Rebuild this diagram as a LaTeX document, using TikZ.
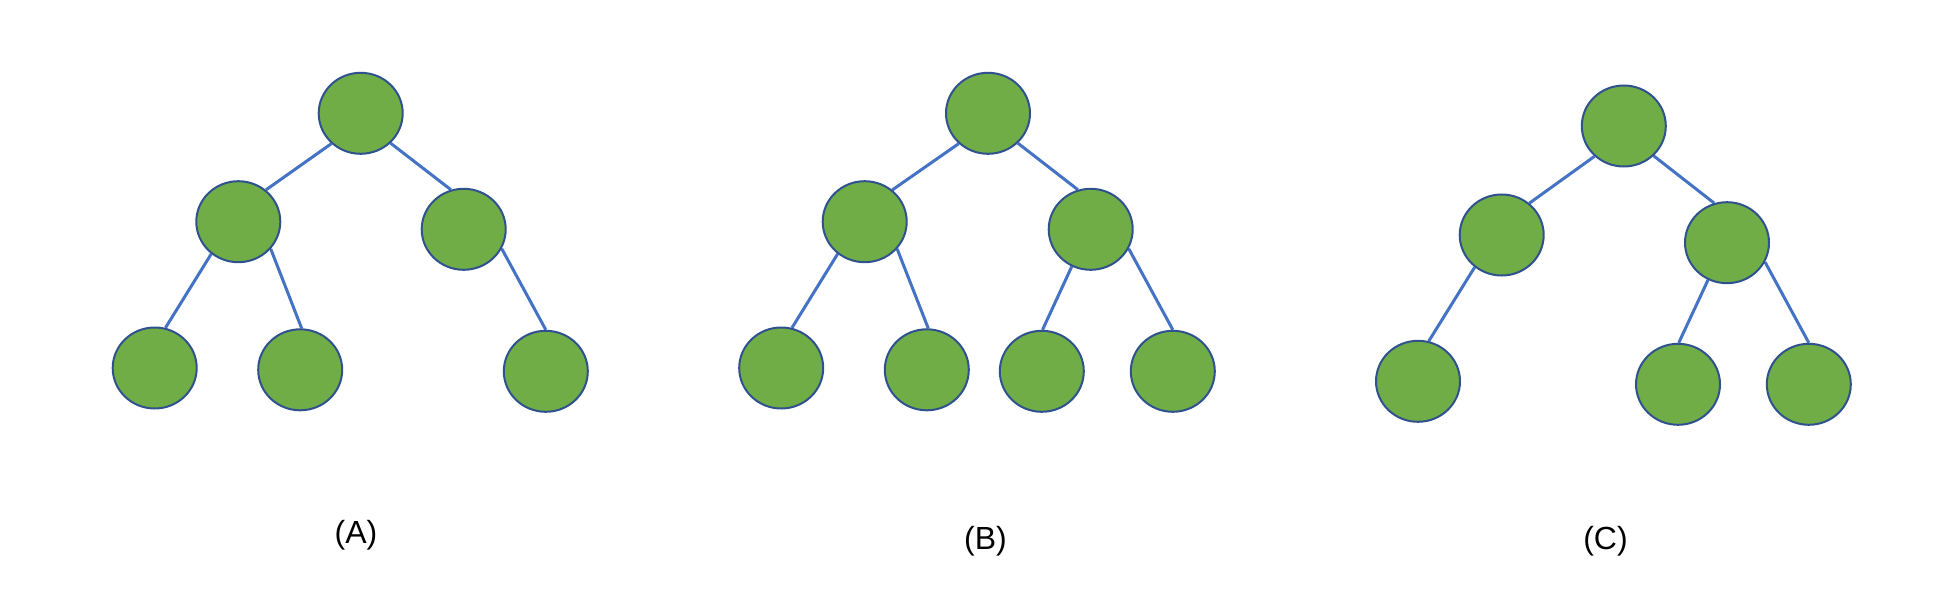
\documentclass[tikz,border=0pt]{standalone}
\usepackage{fontspec}
\setmainfont{Liberation Sans}
\usetikzlibrary{shapes.geometric}
\definecolor{grn}{HTML}{70AD47}
\definecolor{bord}{HTML}{2F528F}
\definecolor{blu}{HTML}{4472C4}
\pgfdeclarelayer{bg}
\pgfsetlayers{bg,main}
\tikzset{
  nd/.style={ellipse, draw=bord, fill=grn, line width=2pt, minimum width=84pt, minimum height=81pt, inner sep=0pt},
  lnk/.style={draw=blu, line width=3pt},
  lbl/.style={inner sep=0pt, font=\fontsize{32}{36}\selectfont}
}
\begin{document}
\begin{tikzpicture}[x=1pt,y=-1pt]
\useasboundingbox (0,0) rectangle (1949,615);
% Tree A
\node[nd] (rA) at (360.7,113.3) {};
\node[nd] (aL) at (238.3,221.7) {};
\node[nd] (aR) at (463.7,229.3) {};
\node[nd] (a1) at (154.7,368) {};
\node[nd] (a2) at (300.2,369.8) {};
\node[nd] (a3) at (545.8,371.3) {};
% Tree B
\node[nd] (rB) at (988,113.3) {};
\node[nd] (bL) at (864.7,221.7) {};
\node[nd] (bR) at (1090.7,229.3) {};
\node[nd] (b1) at (781.2,368) {};
\node[nd] (b2) at (926.8,369.8) {};
\node[nd] (b3) at (1041.8,371.3) {};
\node[nd] (b4) at (1172.8,371.3) {};
% Tree C
\node[nd] (rC) at (1623.8,126) {};
\node[nd] (cL) at (1501.7,235) {};
\node[nd] (cR) at (1727,242.7) {};
\node[nd] (c1) at (1418,381.3) {};
\node[nd] (c3) at (1678,384.3) {};
\node[nd] (c4) at (1808.8,384.3) {};
% labels
\node[lbl] (lA) at (356,535.5) {(A)};
\node[lbl] (lB) at (985.5,541.5) {(B)};
\node[lbl] (lC) at (1605.5,541.5) {(C)};
\begin{pgfonlayer}{bg}
\draw[lnk] (rA.226) -- (aL.49);
\draw[lnk] (rA.315) -- (aR.108);
\draw[lnk] (aL.230) -- (a1.75);
\draw[lnk] (aL.320) -- (a2.88);
\draw[lnk] (aR.333) -- (a3.90);
\draw[lnk] (rB.226) -- (bL.49);
\draw[lnk] (rB.315) -- (bR.108);
\draw[lnk] (bL.230) -- (b1.75);
\draw[lnk] (bL.320) -- (b2.88);
\draw[lnk] (bR.243) -- (b3.89);
\draw[lnk] (bR.333) -- (b4.90);
\draw[lnk] (rC.226) -- (cL.49);
\draw[lnk] (rC.315) -- (cR.108);
\draw[lnk] (cL.230) -- (c1.75);
\draw[lnk] (cR.243) -- (c3.89);
\draw[lnk] (cR.333) -- (c4.90);
\end{pgfonlayer}
\end{tikzpicture}
\end{document}
